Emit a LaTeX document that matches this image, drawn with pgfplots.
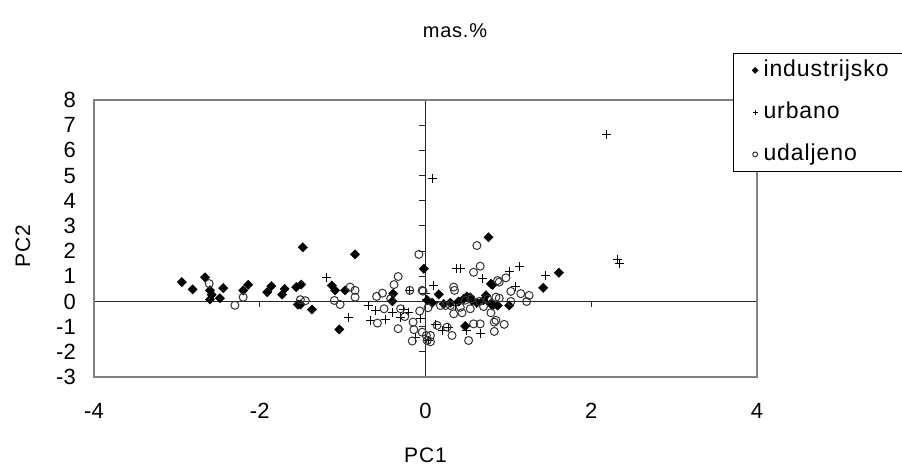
\documentclass[border=0pt]{standalone}
\usepackage{fontspec}
\setmainfont{Liberation Sans}
\newfontfamily\spaced[LetterSpace=4]{Liberation Sans}
\usepackage{pgfplots}
\pgfplotsset{compat=1.18}
\begin{document}
\begin{tikzpicture}[x=1pt,y=1pt]
\useasboundingbox (0,0) rectangle (902,467);
% middle axis lines with ticks
\begin{axis}[at={(94pt,90pt)}, anchor=south west, scale only axis,
  width=663pt, height=277pt, xmin=-4, xmax=4, ymin=-3, ymax=8,
  axis lines=middle, axis line style={-, black!85, line width=1.1pt},
  xtick={-4,-2,0,2,4}, ytick={-3,...,8}, xticklabels={}, yticklabels={},
  tick align=outside, major tick length=6pt,
  tick style={black!85, line width=1pt}]
\end{axis}
\begin{axis}[at={(94pt,90pt)}, anchor=south west, scale only axis,
  width=663pt, height=277pt, xmin=-4, xmax=4, ymin=-3, ymax=8,
  axis line style={draw=gray, line width=1.3pt},
  xtick={-4,-2,0,2,4}, ytick={-3,...,8},
  major tick length=0pt, tick style={draw=none},
  /pgf/number format/assume math mode=true,
  ticklabel style={font=\fontsize{22}{24}\selectfont},
  yticklabel style={anchor=east, inner sep=0pt, xshift=-18pt},
  xticklabel style={anchor=north, inner sep=0pt, yshift=-26pt},
  title={mas.\%},
  title style={at={(axis description cs:0.5445,1.2274)}, anchor=center, inner sep=0pt, font=\spaced\fontsize{20}{22}\selectfont},
  xlabel={PC1},
  xlabel style={at={(axis description cs:0.5,-0.2816)}, anchor=center, inner sep=0pt, font=\spaced\fontsize{21}{23}\selectfont},
  ylabel={PC2},
  ylabel style={at={(axis description cs:-0.1071,0.473)}, anchor=center, inner sep=0pt, font=\spaced\fontsize{21}{23}\selectfont},
  legend style={at={(axis description cs:0.9638,1.1697)}, anchor=north west,
    draw=black, line width=0.8pt, inner xsep=19pt, inner ysep=4.5pt, row sep=17pt,
    font=\spaced\fontsize{23}{25}\selectfont,
    nodes={inner sep=1.5pt, text height=17pt, text depth=5pt},
    /tikz/every odd column/.append style={column sep=4pt}},
  legend cell align=left,
  legend image code/.code={\draw[mark repeat=2,mark phase=2,#1,every mark/.append style={scale=0.6}] plot coordinates {(0pt,0pt) (3pt,0pt) (6pt,0pt)};}
]
\addplot[only marks, mark=square*, mark size=3.3pt, mark options={rotate=45, fill=black, draw=black}] table {
x y
-2.94 0.77
-2.81 0.48
-2.66 0.96
-2.60 0.44
-2.58 0.27
-2.60 0.08
-2.48 0.13
-2.44 0.53
-2.20 0.44
-2.14 0.66
-1.91 0.37
-1.86 0.61
-1.73 0.27
-1.70 0.50
-1.56 0.57
-1.50 0.67
-1.48 2.15
-1.54 -0.12
-1.51 -0.12
-1.37 -0.32
-1.13 0.63
-1.09 0.44
-0.97 0.44
-1.04 -1.11
-0.85 1.87
-0.39 0.31
-0.40 0.01
-0.02 1.30
0.02 0.05
0.08 -0.05
0.16 0.28
0.50 0.20
0.54 0.16
0.56 0.04
0.46 0.10
0.40 0.00
0.30 -0.05
0.22 -0.10
0.62 -0.05
0.70 0.05
0.73 0.24
0.79 -0.09
0.81 -0.16
0.87 -0.16
1.01 -0.16
0.48 -0.98
0.76 2.55
0.79 0.70
0.81 0.66
1.42 0.54
1.61 1.14
};
\addlegendentry{industrijsko}
\addplot[only marks, mark=+, mark size=4.5pt, mark options={draw=black, line width=1pt}] table {
x y
2.18 6.65
2.32 1.67
2.34 1.52
0.08 4.88
1.45 1.03
1.14 1.40
1.01 1.19
1.09 0.61
0.38 1.30
0.42 1.32
0.69 0.90
0.10 0.63
0.00 0.31
0.01 0.07
0.12 -0.93
0.20 -1.15
0.28 -1.05
0.50 -1.15
0.66 -1.28
0.04 -1.55
0.36 -0.16
0.56 0.04
0.62 -0.10
-1.20 0.94
-0.93 -0.62
-0.69 -0.16
-0.60 -0.36
-0.66 -0.75
-0.48 -0.73
-0.40 -0.42
-0.30 -0.62
-0.26 -0.33
-0.21 -0.42
-0.06 -0.69
-0.19 0.44
-0.12 -1.44
};
\addlegendentry{urbano}
\addplot[only marks, mark=o, mark size=4pt, mark options={draw=black!80, line width=1pt}] table {
x y
-2.61 0.71
-2.30 -0.15
-2.20 0.17
-1.51 0.07
-1.45 0.03
-1.10 0.04
-1.03 -0.12
-0.91 0.57
-0.85 0.44
-0.85 0.17
-0.59 0.20
-0.52 0.33
-0.38 0.67
-0.33 0.99
-0.50 -0.29
-0.42 0.11
-0.58 -0.86
-0.33 -1.08
-0.30 -0.29
-0.25 -0.60
-0.15 -0.82
-0.14 -1.12
-0.07 -0.38
-0.03 0.41
-0.16 -1.57
-0.19 0.44
-0.08 1.87
-0.04 0.44
0.62 2.22
0.66 1.40
0.58 1.16
0.34 0.57
0.35 0.44
0.87 0.83
0.85 0.17
0.18 -0.16
0.24 -0.16
0.30 -0.16
0.34 -0.49
0.44 -0.45
0.54 -0.29
0.58 -0.89
0.66 -0.89
0.79 -0.45
0.83 -0.82
0.52 -1.55
0.14 -0.95
0.26 -1.02
0.32 -1.35
0.06 -1.35
0.02 -1.55
-0.04 -1.22
0.01 -1.35
0.06 -1.60
0.03 -0.25
0.42 -0.23
0.48 0.05
0.55 0.10
0.65 0.00
0.70 -0.20
0.75 0.10
0.89 0.77
0.97 0.94
1.03 0.40
1.15 0.31
1.25 0.24
1.22 0.00
0.89 0.13
0.85 -0.75
0.95 -0.91
0.83 -1.19
1.03 0.00
};
\addlegendentry{udaljeno}
\end{axis}
\end{tikzpicture}
\end{document}
